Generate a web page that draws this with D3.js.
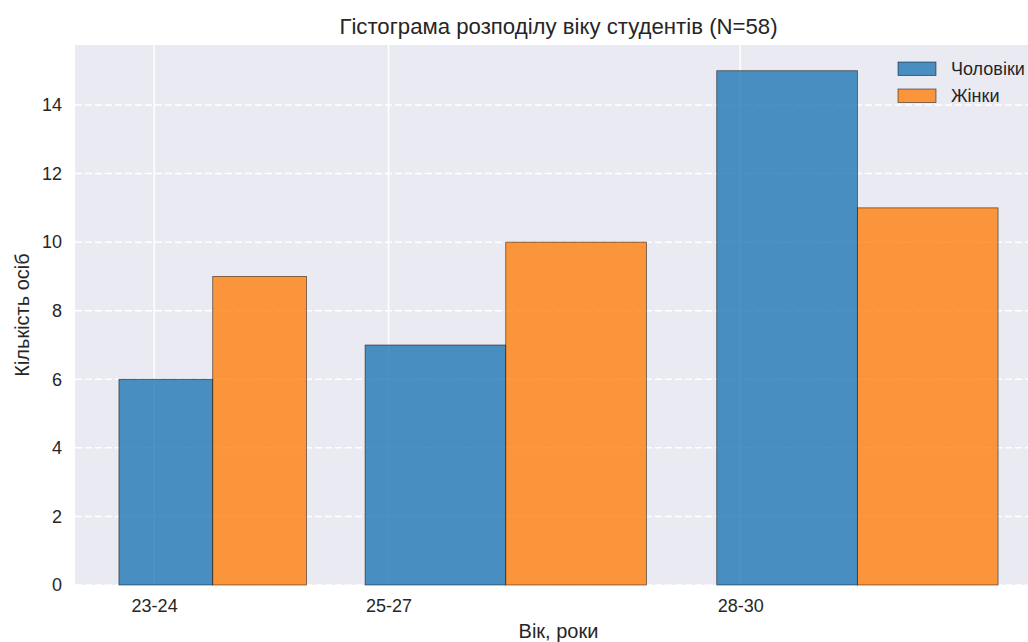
<!DOCTYPE html>
<html><head><meta charset="utf-8">
<script src="https://cdn.jsdelivr.net/npm/d3@7/dist/d3.min.js"></script>
<style>body{margin:0;background:#fff}svg{display:block;font-family:"Liberation Sans",Arial,sans-serif}</style>
</head><body><svg id="c" width="1028" height="642"></svg>
<script>
const categories = ["23-24", "25-27", "28-30"];
const binStart = [23, 25, 28];
const binEnd = [25, 28, 31];
const men = [6, 7, 15];
const women = [9, 10, 11];
const tickPositions = [23.5, 25.5, 28.5];
const yTicks = [0, 2, 4, 6, 8, 10, 12, 14];
const seriesNames = ["Чоловіки", "Жінки"];
const colors = ["#1f77b4", "#ff7f0e"];

const svg = d3.select("#c");
const L = 75, R = 1042, T = 45, B = 585;
const x = d3.scaleLinear().domain([22.825, 31.075]).range([L, R]);
const y = d3.scaleLinear().domain([0, 15.75]).range([B, T]);
const textCol = "#262626";

svg.append("rect").attr("x", L).attr("y", T).attr("width", R - L).attr("height", B - T).attr("fill", "#EAEAF2");

// grid
svg.append("g").selectAll("line").data(yTicks).join("line")
  .attr("x1", L).attr("x2", R).attr("y1", d => y(d)).attr("y2", d => y(d))
  .attr("stroke", "#fff").attr("stroke-width", 1.5).attr("stroke-dasharray", "7,3");
svg.append("g").selectAll("line").data(tickPositions).join("line")
  .attr("x1", d => x(d)).attr("x2", d => x(d)).attr("y1", T).attr("y2", B)
  .attr("stroke", "#fff").attr("stroke-width", 1.5);

// bars
const data = categories.map((c, i) => ({c, s: binStart[i], e: binEnd[i], m: men[i], w: women[i]}));
const g = svg.append("g");
data.forEach(d => {
  const mid = (d.s + d.e) / 2, bw = d.e - d.s;
  [[mid - 0.4 * bw, mid, d.m, colors[0]], [mid, mid + 0.4 * bw, d.w, colors[1]]].forEach(([a, b, v, col]) => {
    g.append("rect").attr("x", x(a)).attr("width", x(b) - x(a))
      .attr("y", y(v)).attr("height", y(0) - y(v))
      .attr("fill", col).attr("fill-opacity", 0.8)
      .attr("stroke", "#000").attr("stroke-opacity", 0.6).attr("stroke-width", 0.8);
  });
});

// axes
const xa = d3.axisBottom(x).tickValues(tickPositions).tickFormat((d, i) => categories[i]).tickSize(0).tickPadding(14);
svg.append("g").attr("transform", `translate(0,${B})`).call(xa)
  .call(s => s.select(".domain").remove())
  .selectAll("text").attr("font-size", 18).attr("fill", textCol).attr("font-family", "Liberation Sans, Arial, sans-serif");
const ya = d3.axisLeft(y).tickValues(yTicks).tickSize(0).tickPadding(13);
svg.append("g").attr("transform", `translate(${L},0)`).call(ya)
  .call(s => s.select(".domain").remove())
  .selectAll("text").attr("font-size", 18).attr("fill", textCol).attr("font-family", "Liberation Sans, Arial, sans-serif");

// labels
const cx = (L + R) / 2;
svg.append("text").attr("x", cx).attr("y", 34).attr("text-anchor", "middle")
  .attr("font-size", 22.2).attr("fill", textCol).text("Гістограма розподілу віку студентів (N=58)");
svg.append("text").attr("x", cx).attr("y", 638).attr("text-anchor", "middle")
  .attr("font-size", 20).attr("fill", textCol).text("Вік, роки");
svg.append("text").attr("transform", `translate(29,${(T + B) / 2}) rotate(-90)`).attr("text-anchor", "middle")
  .attr("font-size", 20).attr("fill", textCol).text("Кількість осіб");

// legend
const lg = svg.append("g");
seriesNames.forEach((n, i) => {
  const yy = 62 + i * 27;
  lg.append("rect").attr("x", 898).attr("y", yy).attr("width", 38).attr("height", 13.5)
    .attr("fill", colors[i]).attr("fill-opacity", 0.8).attr("stroke", "#000").attr("stroke-opacity", 0.6).attr("stroke-width", 0.8);
  lg.append("text").attr("x", 951).attr("y", yy + 13).attr("font-size", 18).attr("fill", textCol).text(n);
});
</script></body></html>
